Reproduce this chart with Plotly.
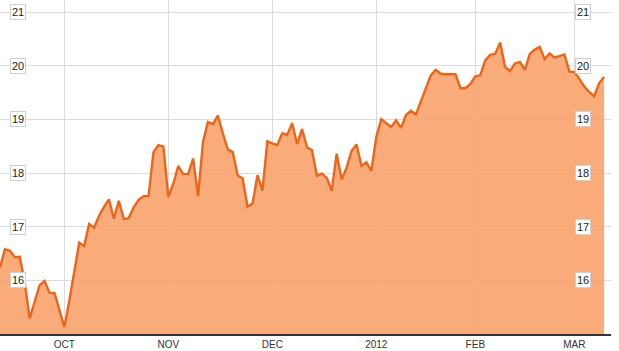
import plotly.graph_objects as go

# Closing prices, one per trading day (mid-Sep 2011 to early Mar 2012)
prices = [
    16.24, 16.58, 16.55, 16.43, 16.44, 15.95, 15.29, 15.58, 15.91, 15.99,
    15.77, 15.76, 15.45, 15.13, 15.62, 16.20, 16.70, 16.64, 17.05, 16.98,
    17.20, 17.37, 17.51, 17.15, 17.48, 17.14, 17.16, 17.36, 17.50, 17.57,
    17.57, 18.39, 18.52, 18.49, 17.55, 17.80, 18.13, 17.98, 17.98, 18.27,
    17.57, 18.58, 18.95, 18.91, 19.07, 18.74, 18.44, 18.39, 17.96, 17.90,
    17.37, 17.43, 17.96, 17.67, 18.59, 18.55, 18.52, 18.74, 18.71, 18.93,
    18.54, 18.82, 18.48, 18.43, 17.95, 17.99, 17.91, 17.67, 18.36, 17.88,
    18.10, 18.41, 18.53, 18.13, 18.20, 18.04, 18.67, 19.00, 18.93, 18.86,
    18.98, 18.84, 19.08, 19.16, 19.09, 19.33, 19.58, 19.82, 19.92, 19.85,
    19.84, 19.84, 19.84, 19.58, 19.58, 19.66, 19.80, 19.82, 20.10, 20.20,
    20.22, 20.43, 19.98, 19.90, 20.04, 20.07, 19.92, 20.22, 20.30, 20.35,
    20.12, 20.23, 20.15, 20.18, 20.21, 19.89, 19.88, 19.76, 19.61, 19.51,
    19.43, 19.67, 19.79,
]
day_index = list(range(len(prices)))

month_labels = ["OCT", "NOV", "DEC", "2012", "FEB", "MAR"]
month_start_index = [13, 34, 55, 76, 96, 116]

y_ticks = [16, 17, 18, 19, 20, 21]

fig = go.Figure()
fig.add_trace(go.Scatter(
    x=day_index, y=prices,
    mode="lines",
    line=dict(color="#E8661E", width=2.4),
    fill="tozeroy",
    fillcolor="rgba(250,162,107,0.9)",
    hoverinfo="skip",
))

annotations = []
for v in y_ticks:
    for xp in (0.0295, 0.954):
        annotations.append(dict(
            x=xp, xref="paper", y=v, yref="y",
            text=str(v), showarrow=False,
            xanchor="center", yanchor="middle",
            font=dict(family="Liberation Sans, Arial, sans-serif", size=11, color="#222"),
            bgcolor="white", bordercolor="#cfcfcf", borderwidth=1, borderpad=1,
        ))

fig.update_layout(
    width=619, height=351,
    margin=dict(l=0, r=8, t=0, b=17),
    paper_bgcolor="white", plot_bgcolor="white",
    showlegend=False,
    annotations=annotations,
    xaxis=dict(
        range=[0, 123.4],
        tickmode="array", tickvals=month_start_index, ticktext=month_labels,
        showgrid=True, gridcolor="#dcdcdc", gridwidth=1,
        ticks="", ticklen=0,
        showline=True, linecolor="#333333", linewidth=1.5,
        tickfont=dict(family="Liberation Sans, Arial, sans-serif", size=10, color="#333"),
        zeroline=False, fixedrange=True,
    ),
    yaxis=dict(
        range=[15, 21.224],
        tickmode="array", tickvals=y_ticks,
        showticklabels=False,
        showgrid=True, gridcolor="#dcdcdc", gridwidth=1,
        showline=True, linecolor="#e0e0e0", linewidth=1,
        zeroline=False, fixedrange=True,
    ),
)

fig.write_html("out.html", config={"displayModeBar": False})
